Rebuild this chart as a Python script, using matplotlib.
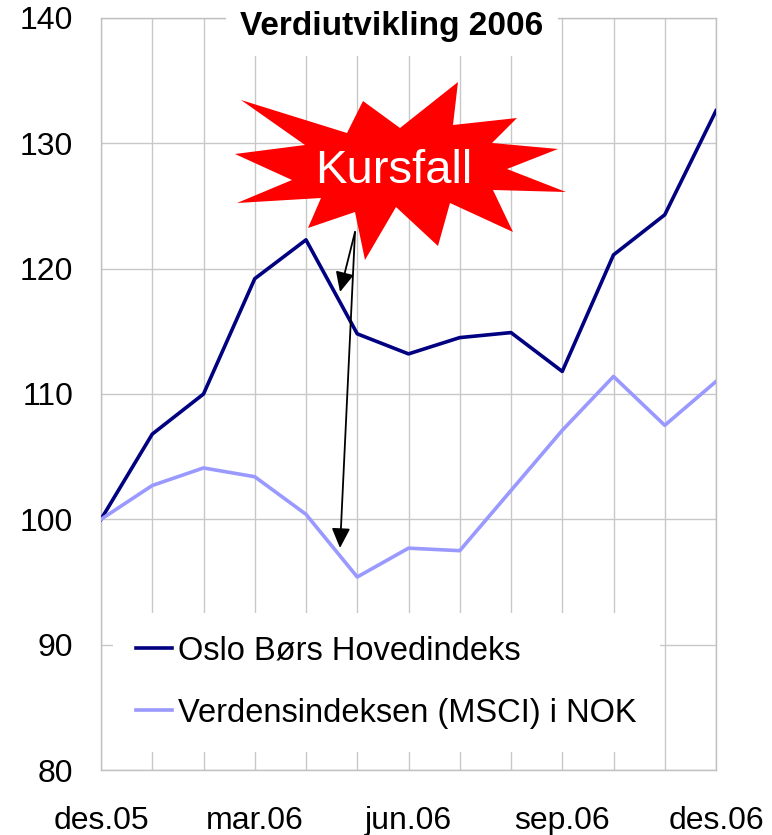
import numpy as np
import matplotlib.pyplot as plt
from matplotlib.patches import Polygon

plt.rcParams['font.family'] = ['Liberation Sans', 'DejaVu Sans']

months = ['des.05', 'jan.06', 'feb.06', 'mar.06', 'apr.06', 'mai.06', 'jun.06',
          'jul.06', 'aug.06', 'sep.06', 'okt.06', 'nov.06', 'des.06']
oslo = [100.0, 106.8, 110.0, 119.2, 122.3, 114.8, 113.2, 114.5, 114.9, 111.8, 121.1, 124.3, 132.6]
msci = [100.0, 102.7, 104.1, 103.4, 100.4, 95.4, 97.7, 97.5, 102.3, 107.1, 111.4, 107.5, 111.0]
tick_labels = ['des.05', 'mar.06', 'jun.06', 'sep.06', 'des.06']

W, H = 772, 835
fig = plt.figure(figsize=(W / 100, H / 100), dpi=100)
ax = fig.add_axes([101 / W, 1 - 770 / H, 615 / W, 752 / H])

def px(x, y):
    # figure pixel (from top-left) -> figure fraction
    return (x / W, 1 - y / H)

x = np.arange(len(months))
ax.plot(x, oslo, color='#000080', lw=2.6, label='Oslo Børs Hovedindeks', zorder=3)
ax.plot(x, msci, color='#9999FF', lw=2.6, label='Verdensindeksen (MSCI) i NOK', zorder=3)

ax.set_xlim(0, 12)
ax.set_ylim(80, 140)
ax.set_yticks(np.arange(80, 141, 10))
ax.set_xticks(x, minor=True)
ax.set_xticks([0, 3, 6, 9, 12])
ax.set_xticklabels(tick_labels)
ax.grid(True, which='both', axis='x', color='#C8C8C8', lw=1)
ax.grid(True, which='major', axis='y', color='#C8C8C8', lw=1)
ax.set_axisbelow(True)
for s in ax.spines.values():
    s.set_color('#C0C0C0')
    s.set_linewidth(1)
ax.tick_params(which='both', length=0, labelsize=23)
ax.tick_params(axis='x', pad=26)
ax.tick_params(axis='y', pad=20)

leg = ax.legend(loc='upper left', bbox_to_anchor=px(113, 613), bbox_transform=fig.transFigure,
                fontsize=23.5, frameon=True, fancybox=False, edgecolor='none', facecolor='white',
                framealpha=1, borderaxespad=0, borderpad=0.7, handlelength=1.1,
                handletextpad=0.2, labelspacing=0.95)
leg.set_zorder(5)

# title with white box over the grid
fig.text(*px(392, 26), 'Verdiutvikling 2006', ha='center', va='center', fontsize=24,
         fontweight='bold', zorder=6,
         bbox=dict(facecolor='white', edgecolor='none', pad=10))

# starburst
star = [(241, 100), (347, 133), (363, 101), (400, 128), (458, 82), (453, 125),
        (517, 118), (492, 143), (558, 149), (507, 169), (566, 192), (493, 190),
        (513, 232), (450, 203), (438, 246), (396, 207), (365, 260), (355, 212),
        (308, 228), (321, 198), (237, 203), (292, 180), (235, 154), (305, 145)]
fig.patches.append(Polygon([px(a, b) for a, b in star], closed=True, transform=fig.transFigure,
                           facecolor='#FF0000', edgecolor='none', zorder=7))
fig.text(*px(394, 183), 'Kursfall', ha='center', va='baseline', fontsize=34,
         color='white', zorder=8)

# arrows
for tip in [(340, 292), (340, 548)]:
    ax.annotate('', xy=px(*tip), xycoords='figure fraction',
                xytext=px(355, 232), textcoords='figure fraction',
                arrowprops=dict(arrowstyle='-|>,head_length=0.6,head_width=0.28',
                                mutation_scale=20, color='black', lw=1.3,
                                shrinkA=0, shrinkB=0), zorder=9)

fig.savefig('out.png', dpi=100)
